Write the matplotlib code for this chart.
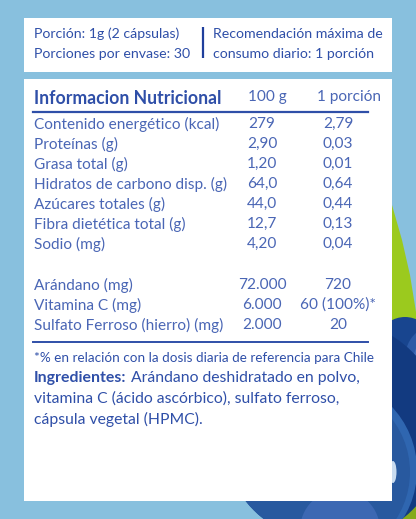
import matplotlib
matplotlib.use("Agg")
import matplotlib.pyplot as plt
from matplotlib.patches import Rectangle, Ellipse, Polygon, Circle

nutrients = ["Contenido energético (kcal)", "Proteínas (g)", "Grasa total (g)",
             "Hidratos de carbono disp. (g)", "Azúcares totales (g)",
             "Fibra dietética total (g)", "Sodio (mg)"]
per100 = ["279", "2,90", "1,20", "64,0", "44,0", "12,7", "4,20"]
perPortion = ["2,79", "0,03", "0,01", "0,64", "0,44", "0,13", "0,04"]
actives = ["Arándano (mg)", "Vitamina C (mg)", "Sulfato Ferroso (hierro) (mg)"]
actives100 = ["72.000", "6.000", "2.000"]
activesPortion = ["720", "60 (100%)*", "20"]

BG = "#88c0de"; INK = "#2f4fa8"; TXT = "#4a66b5"; BAR = "#1f3f9c"
FONT = "Lato"

fig = plt.figure(figsize=(4.16, 5.19), dpi=100, facecolor=BG)
ax = fig.add_axes([0, 0, 1, 1])
ax.set_xlim(0, 416); ax.set_ylim(519, 0); ax.axis("off")

# Leaves
ax.add_patch(Polygon([(392, 205), (402, 240), (410, 275), (416, 312), (416, 330), (392, 330)],
                     fc="#9bca1e", ec="none", zorder=1))
ax.add_patch(Polygon([(416, 496), (398, 519), (416, 519)], fc="#86aa1c", ec="none", zorder=1))

# Upper berry
ax.add_patch(Ellipse((405, 380), 84, 126, fc="#18458f", ec="none", zorder=2))
ax.add_patch(Ellipse((428, 368), 50, 80, fc="#2c5aa6", ec="none", zorder=2.1))
ax.add_patch(Ellipse((430, 368), 36, 62, fc="#3f6cb6", ec="none", zorder=2.2))

# Lower berry, clipped to its outline
outline = Circle((333, 431), 112, fc="#123a80", ec="none", zorder=3)
ax.add_patch(outline)
for xy, r, c, z in [((325, 470), 92, "#2f66b0", 3.1), ((323, 472), 87, "#28599f", 3.2),
                    ((340, 530), 40, "#3c68b3", 3.3)]:
    p = Circle(xy, r, fc=c, ec="none", zorder=z)
    ax.add_patch(p)
    p.set_clip_path(outline)
ax.add_patch(Ellipse((393, 472), 7, 22, fc="#c9dcf0", ec="none", zorder=3.4))

# White panels
ax.add_patch(Rectangle((24, 18), 368, 54, fc="white", ec="none", zorder=5))
ax.add_patch(Rectangle((24, 79), 368, 422, fc="white", ec="none", zorder=5))

def put(x, y, s, size=10.2, color=INK, ha="left", weight="normal"):
    ax.text(x, y, s, fontsize=size, color=color, ha=ha, va="center",
            fontfamily=FONT, fontweight=weight, zorder=6)

S_HEAD, S_ROW, S_ING = 10.2, 11.1, 11.35
put(34, 33.5, "Porción: 1g (2 cápsulas)", S_HEAD)
put(34, 53.5, "Porciones por envase: 30", S_HEAD)
put(213, 33.5, "Recomendación máxima de", S_HEAD)
put(213, 53.5, "consumo diario: 1 porción", S_HEAD)
ax.plot([203, 203], [27, 58], color=BAR, lw=1.6, zorder=6, solid_capstyle="butt")

put(34, 99, "Informacion Nutricional", 12.7, INK, weight="bold")
put(267, 97, "100 g", S_ROW, TXT, ha="center")
put(349, 97, "1 porción", S_ROW, TXT, ha="center")
ax.plot([33, 368], [112, 112], color=INK, lw=1.6, zorder=6)

X_NAME, X_100, X_PORT = 34, 262, 338
ROW0, STEP = 124, 20
for i, (n, a, b) in enumerate(zip(nutrients, per100, perPortion)):
    y = ROW0 + i * STEP
    put(X_NAME, y, n, S_ROW, TXT)
    put(X_100, y, a, S_ROW, TXT, ha="center")
    put(X_PORT, y, b, S_ROW, TXT, ha="center")

ROW1 = 285
for i, (n, a, b) in enumerate(zip(actives, actives100, activesPortion)):
    y = ROW1 + i * STEP
    put(X_NAME, y, n, S_ROW, TXT)
    put(X_100, y, a, S_ROW, TXT, ha="center")
    put(X_PORT, y, b, S_ROW, TXT, ha="center")

ax.plot([33, 368], [342, 342], color=INK, lw=1.4, zorder=6)
put(34, 357.5, "*% en relación con la dosis diaria de referencia para Chile", 9.7)
put(34, 378, "Ingredientes:", 11.4, INK, weight="bold")
put(131, 378, "Arándano deshidratado en polvo,", S_ING)
put(34, 399, "vitamina C (ácido ascórbico), sulfato ferroso,", S_ING)
put(34, 419, "cápsula vegetal (HPMC).", S_ING)

fig.savefig("out.png", dpi=100, facecolor=BG)
